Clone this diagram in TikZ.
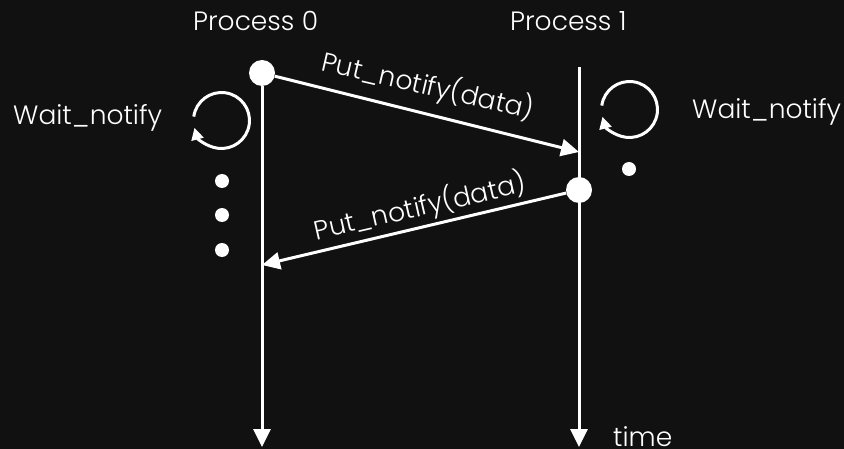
\documentclass[tikz,border=0pt]{standalone}
\usepackage{fontspec}
\setmainfont{Poppins}[UprightFont=*-Light]
\usetikzlibrary{arrows.meta}
\definecolor{bg}{HTML}{111111}
\tikzset{
  msg/.style={draw=white, line width=3pt, -{Triangle[length=18pt,width=17pt]}},
  bigdot/.style={circle, fill=white, inner sep=0pt, minimum size=26pt},
  smalldot/.style={circle, fill=white, inner sep=0pt, minimum size=14pt},
  lbl/.style={text=white, font=\fontsize{26.5}{28}\selectfont, inner sep=0pt},
  loop/.style={draw=white, line width=3pt, -{Triangle[length=12pt,width=12pt]}}
}
\begin{document}
\begin{tikzpicture}[x=1pt,y=-1pt]
\fill[bg] (0,0) rectangle (844,449);
\useasboundingbox (0,0) rectangle (844,449);

% process headers
\node[lbl, anchor=base west] (h0) at (193,31) {Process 0};
\node[lbl, anchor=base west] (h1) at (510,31) {Process 1};

% time lines
\node[bigdot] (s0) at (262,73) {};
\node[bigdot] (s1) at (579,190) {};
\coordinate (top1) at (579,67);
\coordinate (end0) at (262,447);
\coordinate (end1) at (579,447);
\draw[msg] (s0) -- (end0);
\draw[msg] (top1) -- (end1);
\node[lbl, anchor=base west] (time) at (613,446) {time};

% messages
\coordinate (r1) at (579,152);
\coordinate (r0) at (262,265);
\draw[msg] (s0) -- (r1);
\draw[msg] (s1) -- (r0);
\node[lbl, rotate=-13] (m1) at (428,86) {Put\_notify(data)};
\node[lbl, rotate=13] (m2) at (420,207) {Put\_notify(data)};

% waiting loops
\node[lbl, anchor=base west] (w0) at (13,125) {Wait\_notify};
\node[lbl, anchor=base west] (w1) at (692,119) {Wait\_notify};
\draw[loop] (221.5,120.5) ++(-172:28) arc[start angle=-172, end angle=165, radius=28];
\draw[loop] (629.5,109.5) ++(-172:28) arc[start angle=-172, end angle=165, radius=28];

% idle dots
\node[smalldot] (d1) at (222,181) {};
\node[smalldot] (d2) at (222,215) {};
\node[smalldot] (d3) at (222,250) {};
\node[smalldot] (d4) at (629,169) {};
\end{tikzpicture}
\end{document}
